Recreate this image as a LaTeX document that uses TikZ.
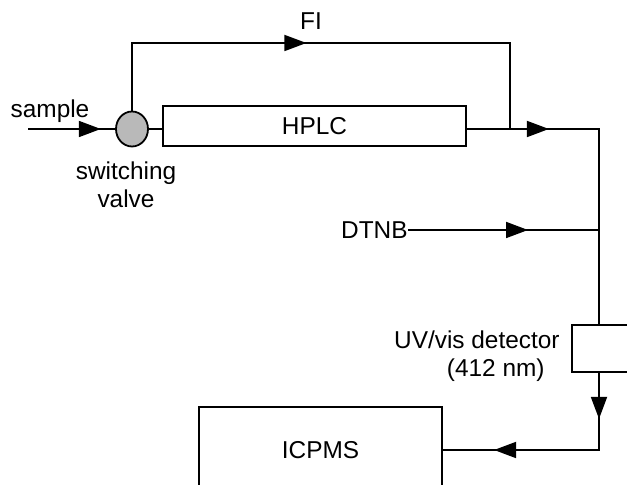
\documentclass[tikz,border=0pt]{standalone}
\usepackage{fontspec}
\setmainfont{Liberation Sans}
\usetikzlibrary{shapes.geometric, arrows.meta, decorations.markings, positioning}
\tikzset{
  block/.style={rectangle, draw, line width=0.9pt, inner sep=0pt,
                font=\fontsize{12.2}{14}\selectfont},
  valve/.style={ellipse, draw, line width=0.9pt, fill=gray!55,
                minimum width=16pt, minimum height=17.5pt, inner sep=0pt},
  txt/.style={inner sep=0pt, align=center, font=\fontsize{12.2}{14}\selectfont},
  pipe/.style={line width=0.9pt},
  flow/.style={pipe, postaction={decorate, decoration={markings,
               mark=at position #1 with {\arrow{Triangle[length=11pt, width=8pt]}}}}},
}
\begin{document}
\begin{tikzpicture}[x=0.5pt, y=-0.5pt]
  \useasboundingbox (0,0) rectangle (627,485);
  \clip (0,0) rectangle (627,485);

  % units
  \node[valve] (valve) at (132,129) {};
  \node[block, minimum width=151.5pt, minimum height=20pt] (hplc) at (314.5,126) {HPLC};
  \node[block, minimum width=50pt, minimum height=23.5pt] (det) at (622,348.5) {};
  \node[block, minimum width=121.5pt, minimum height=43pt] (icpms) at (320.5,450) {ICPMS};

  % labels
  \node[txt, anchor=base] (sample) at (50,118) {sample};
  \node[txt] (swlabel) at (126,185) {switching\\valve};
  \node[txt, anchor=base] (fi) at (311,30) {FI};
  \node[txt, anchor=east] (dtnb) at (408,230) {DTNB};
  \node[txt, align=right, anchor=east] (detlabel) at (560,356)
       {UV/vis detector\\(412 nm)\hspace*{7.5pt}};

  % junctions
  \coordinate (in) at (28,129);
  \coordinate (fitop) at (510,43);
  \coordinate (fijoin) at (510,129);
  \coordinate (rt) at (599,129);

  % flow lines
  \draw[flow=0.836] (in) -- (valve.west);
  \draw[pipe] (valve.east) -- (valve.east -| hplc.west);
  \draw[flow=121pt] (valve.north) |- (fitop) -- (fijoin);
  \draw[flow=41pt] (hplc.east |- rt) -- (rt) -- (rt |- det.north);
  \draw[flow=60pt] (dtnb.east) -- (dtnb.east -| rt);
  \draw[flow=23pt, flow=91pt] (rt |- det.south) -- (rt |- icpms.east) -- (icpms.east);
\end{tikzpicture}
\end{document}
